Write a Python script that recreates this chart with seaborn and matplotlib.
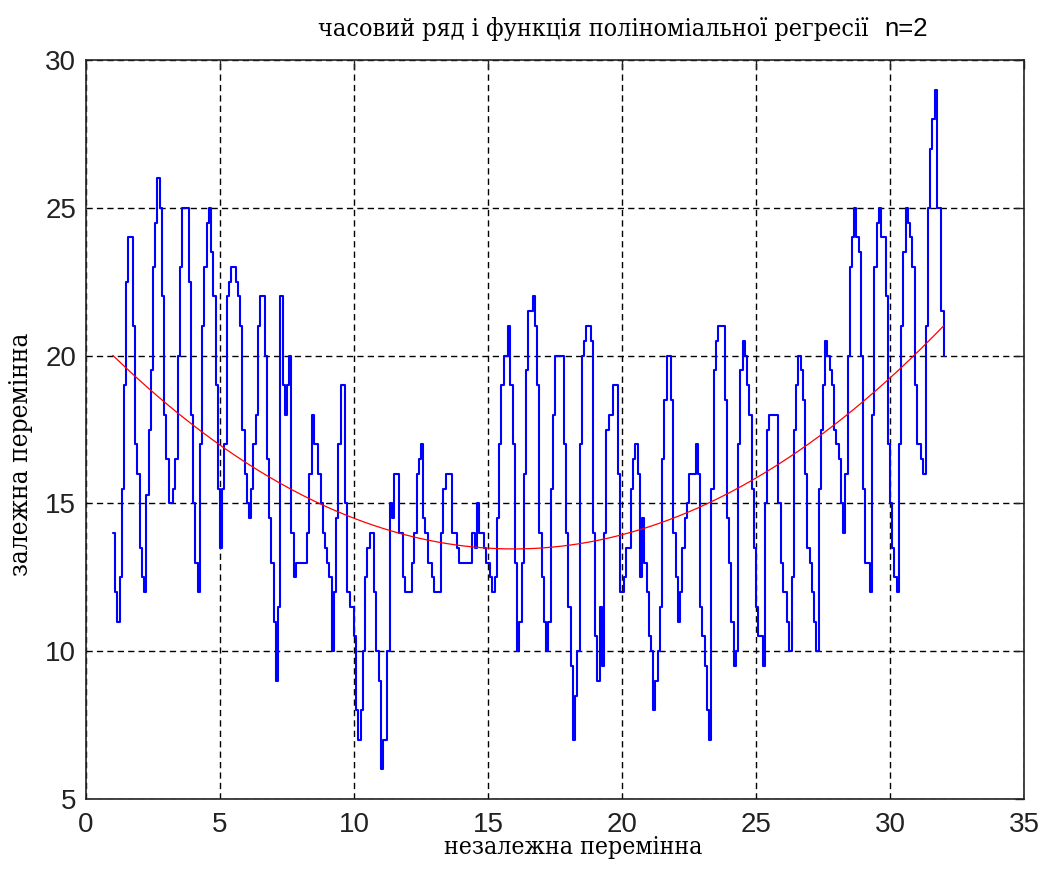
import numpy as np
import pandas as pd
import matplotlib
matplotlib.use("Agg")
import matplotlib.pyplot as plt
from matplotlib import font_manager as fm
import seaborn as sns

# ---- chart text -------------------------------------------------------------
title_text = "часовий ряд і функція поліноміальної регресії"
title_suffix = "n=2"
x_label = "незалежна перемінна"
y_label = "залежна перемінна"
x_ticks = [0, 5, 10, 15, 20, 25, 30, 35]
y_ticks = [5, 10, 15, 20, 25, 30]

# ---- series: 12 readings per unit of x, starting at x = 1 ------------------
first_x = 1.0
steps_per_unit = 12

levels_01_08 = [
    14, 12, 11, 12.5, 15.5, 19, 22.5, 24, 24, 21, 17, 16,
    13.5, 12.5, 12, 15.3, 17.5, 19.5, 23, 24.5, 26, 25, 22, 18,
    16.5, 15, 15, 15.5, 16.5, 20, 23, 25, 25, 25, 22.5, 18,
    15, 13, 12, 17, 21, 23, 24.5, 25, 23.5, 22, 19, 15.5,
    13.5, 15.5, 17, 22, 22.5, 23, 23, 22.5, 22, 21, 17.5, 16,
    15, 14.5, 15.5, 17, 18, 21, 22, 22, 20, 16.5, 14.5, 13,
    11, 9, 11.5, 22, 19, 18, 19, 20, 14, 12.5, 13, 13,
    13, 13, 13, 14, 16, 18, 17, 17, 16, 15, 14, 13.5,
]
levels_09_16 = [
    13, 12.5, 10, 12, 14.5, 17, 19, 19, 15, 12, 11.5, 11.5,
    10.5, 8, 7, 8, 10, 12.5, 13.5, 14, 14, 12, 10, 9,
    6, 7, 7, 10, 15, 14.5, 16, 16, 14, 14, 12.5, 12,
    12, 12, 13, 14, 16, 16.5, 17, 14.5, 14, 13, 13, 12.5,
    12, 12, 12, 14, 15.5, 16, 16, 16, 14, 14, 13.5, 13,
    13, 13, 13, 13, 13, 14, 13.5, 15, 14, 14, 13.5, 13,
    13, 12.5, 12, 12.5, 14.5, 17, 19, 20, 20, 21, 19, 17,
    13, 10, 11, 13, 16, 19.5, 21.5, 21.5, 22, 21, 19, 14,
]
levels_17_24 = [
    12.5, 11, 10, 11, 15.5, 18, 20, 20, 20, 20, 17, 14,
    11.5, 9.5, 7, 8.5, 10, 17, 20, 20.5, 21, 21, 20.5, 14,
    10.5, 9, 11.5, 9.5, 14, 17.5, 18, 18, 19, 19, 16, 12,
    12, 12.5, 13.5, 13.5, 15.5, 16.5, 17, 16, 12.5, 14.5, 13, 12,
    10.5, 10, 8, 9, 10, 11.5, 16.5, 18.5, 20, 20, 18.5, 14,
    12.5, 11, 12, 13.5, 14.5, 15, 16, 16, 16, 17, 16, 11.5,
    10.5, 9.5, 8, 7, 15.5, 19.5, 20.5, 21, 21, 21, 18.5, 14.5,
    13, 11, 9.5, 10, 17, 19.5, 20.5, 20, 19, 18, 15.5, 13.5,
]
levels_25_32 = [
    11.5, 10.5, 10.5, 9.5, 15, 17.5, 18, 18, 18, 18, 15, 13,
    12, 12, 11, 10, 12.5, 17.5, 19, 20, 19.5, 18.5, 16, 13.5,
    13, 12, 11, 10, 15.5, 17.5, 19, 20.5, 20, 19.5, 19, 17.5,
    17, 16.5, 15, 14, 16, 20, 23, 24, 25, 24, 23.5, 20,
    15.5, 13, 13, 12, 18, 23, 24.5, 25, 24, 24, 22, 17,
    15, 13.5, 12.5, 12, 17, 21, 23.5, 25, 24.5, 24, 23, 19,
    17, 17, 16.5, 16, 21, 25, 27, 28, 29, 25, 25, 21.5,
    20,
]

# second-order regression polynomial (highest power first)
regression_coeffs = [0.0293, -0.9347, 20.914]

y_vals = np.array(levels_01_08 + levels_09_16 + levels_17_24 + levels_25_32, dtype=float)
x_vals = first_x + np.arange(len(y_vals)) / steps_per_unit
series = pd.DataFrame({"x": x_vals, "y": y_vals})
series["fit"] = np.polyval(regression_coeffs, series["x"])

# ---- styling ----------------------------------------------------------------
sns.set_theme(style="white")
plt.rcParams["font.family"] = ["Liberation Sans", "DejaVu Sans"]

serif_props = dict(family=["Liberation Serif", "DejaVu Serif"])
cond = fm.FontProperties(family="DejaVu Serif", stretch="condensed")
try:
    if "Condensed" in fm.findfont(cond, fallback_to_default=False):
        serif_props = dict(family=["DejaVu Serif"], stretch="condensed")
except Exception:
    pass

W, H = 1045, 869
fig = plt.figure(figsize=(W / 100, H / 100), dpi=100, facecolor="white")
ax = fig.add_axes([86 / W, 1 - 799 / H, (1024 - 86) / W, (799 - 60) / H])
ax.set_facecolor("white")

sns.lineplot(data=series, x="x", y="y", ax=ax, color="#0000ff", linewidth=1.5,
             drawstyle="steps-post", estimator=None, sort=False, zorder=3)
sns.lineplot(data=series, x="x", y="fit", ax=ax, color="#ff0000", linewidth=0.9,
             estimator=None, sort=False, zorder=4)

ax.set_xlim(0, 35)
ax.set_ylim(5, 30)
ax.set_xticks(x_ticks)
ax.set_yticks(y_ticks)
ax.set_xticklabels([str(t) for t in x_ticks])
ax.set_yticklabels([str(t) for t in y_ticks])
ax.set_xlabel("")
ax.set_ylabel("")

ax.grid(True, color="black", linestyle=(0, (4.5, 3.0)), linewidth=1.0)
ax.set_axisbelow(True)
for s in ax.spines.values():
    s.set_visible(True)
    s.set_color("#222222")
    s.set_linewidth(1.2)
ax.tick_params(axis="both", direction="in", length=6.5, width=1.0, color="#222222",
               top=True, right=True, labelsize=20, labelcolor="#222222")
ax.tick_params(axis="y", pad=7)
ax.tick_params(axis="x", pad=9)

# ---- title and axis labels ---------------------------------------------------
t_main = fig.text(318 / W, 1 - 36 / H, title_text, ha="left", va="baseline",
                  fontsize=20, color="black", **serif_props)
t_suffix = fig.text(884 / W, 1 - 36 / H, title_suffix, ha="left", va="baseline",
                    fontsize=18.5, color="black")
t_x = fig.text(573 / W, 1 - 854 / H, x_label, ha="center", va="baseline",
               fontsize=20, color="black", **serif_props)
t_y = fig.text(21 / W, 1 - 454 / H, y_label, ha="center", va="center",
               rotation=90, fontsize=20, color="black", **serif_props)

fig.canvas.draw()
renderer = fig.canvas.get_renderer()


def fit_size(txt, target, use_height=False):
    bb = txt.get_window_extent(renderer=renderer)
    span = bb.height if use_height else bb.width
    if span > 0:
        txt.set_fontsize(txt.get_fontsize() * target / span)


fit_size(t_main, 552)
fit_size(t_x, 260)
fit_size(t_y, 245, use_height=True)

fig.savefig("out.png", dpi=100, facecolor="white")
